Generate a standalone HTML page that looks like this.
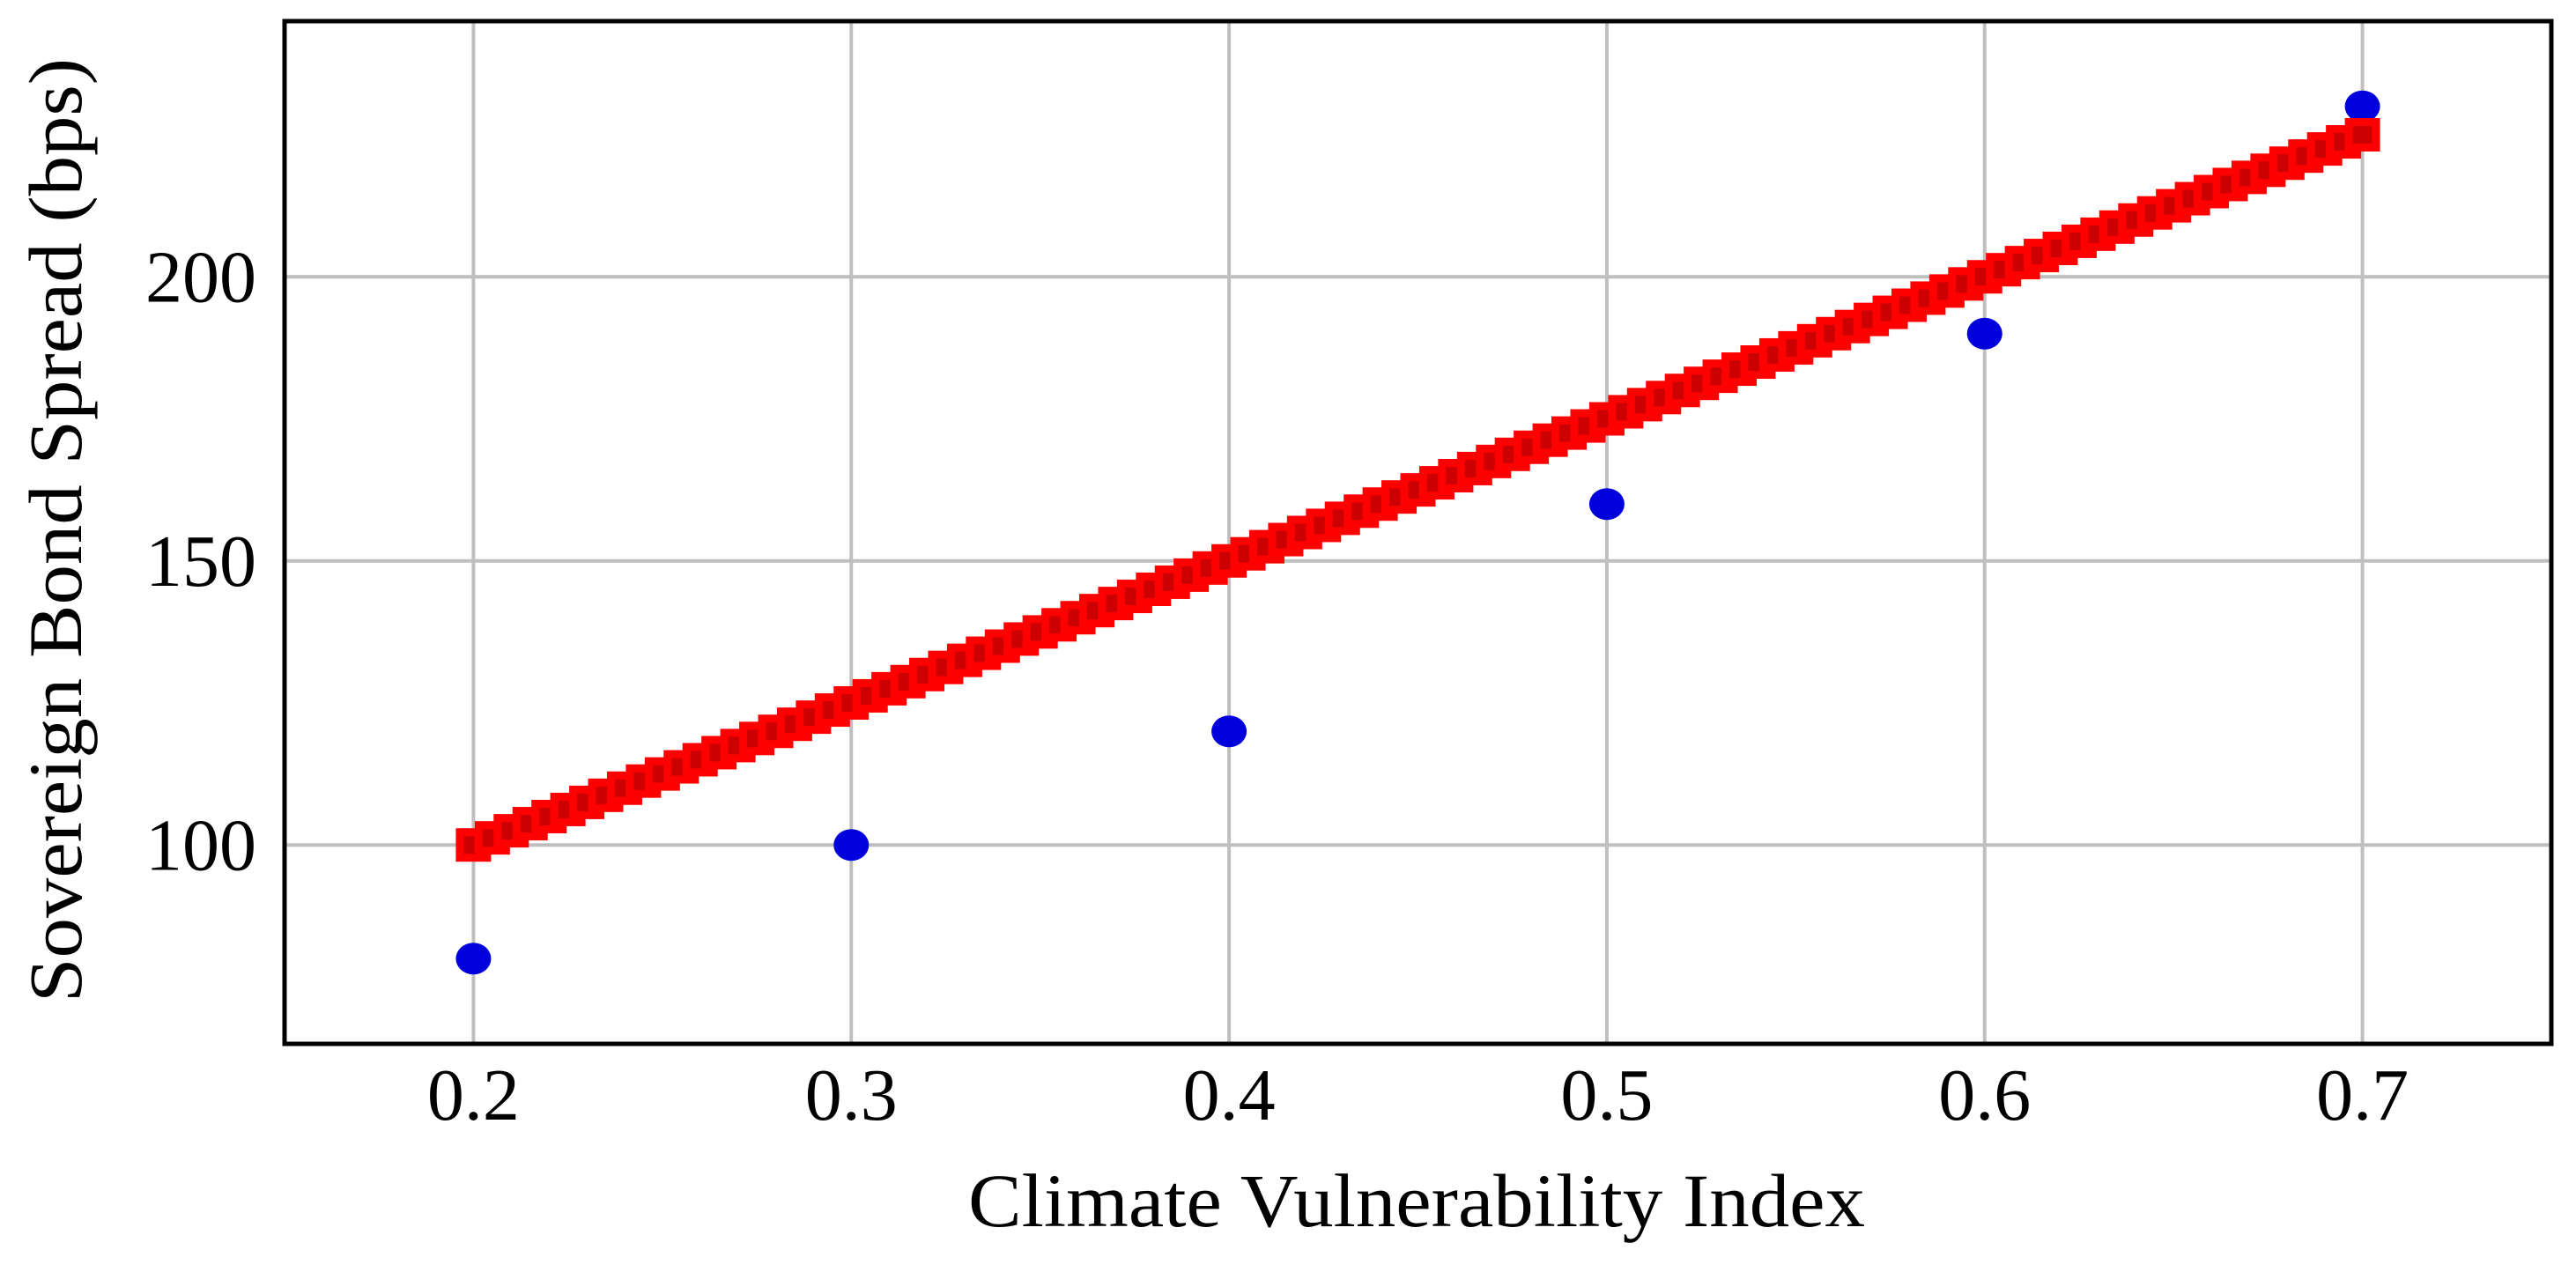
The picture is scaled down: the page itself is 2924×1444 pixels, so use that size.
<!DOCTYPE html>
<html><head><meta charset="utf-8"><style>
html,body{margin:0;padding:0;background:#fff;}
svg{display:block;font-family:"Liberation Serif",serif;}
</style></head><body>
<svg id="chart" width="2924" height="1444" viewBox="0 0 2924 1444" xmlns="http://www.w3.org/2000/svg">
<g id="grid"></g>
<g id="marks"></g>
<rect x="323" y="24" width="2573" height="1161" fill="none" stroke="#000" stroke-width="5"/>
<g id="ticks" font-size="84" fill="#000"></g>
<text x="1608" y="1392" font-size="86" text-anchor="middle" textLength="1018" lengthAdjust="spacingAndGlyphs">Climate Vulnerability Index</text>
<text transform="translate(92,602) rotate(-90)" font-size="86" text-anchor="middle" textLength="1072" lengthAdjust="spacingAndGlyphs">Sovereign Bond Spread (bps)</text>
</svg>
<script>
const xTicks = [0.2, 0.3, 0.4, 0.5, 0.6, 0.7];
const xTickLabels = ["0.2", "0.3", "0.4", "0.5", "0.6", "0.7"];
const yTicks = [100, 150, 200];
const yTickLabels = ["100", "150", "200"];
const obsX = [0.2, 0.3, 0.4, 0.5, 0.6, 0.7];
const obsY = [80, 100, 120, 160, 190, 230];
const fitStart = [0.2, 100];
const fitEnd = [0.7, 225];
const fitSamples = 101;

const X0 = 323, X1 = 2896, Y0 = 1185, Y1 = 24;
const xMin = 0.15, xMax = 0.75, yMin = 65, yMax = 245;
const sx = v => X0 + (v - xMin) / (xMax - xMin) * (X1 - X0);
const sy = v => Y0 - (v - yMin) / (yMax - yMin) * (Y0 - Y1);
const NS = "http://www.w3.org/2000/svg";
function mk(tag, attrs, parent) {
  const e = document.createElementNS(NS, tag);
  for (const k in attrs) e.setAttribute(k, attrs[k]);
  parent.appendChild(e);
  return e;
}
const grid = document.getElementById('grid');
const marks = document.getElementById('marks');
const ticks = document.getElementById('ticks');

xTicks.forEach((t, i) => {
  const g = mk('line', {x1: sx(t), x2: sx(t), y1: Y1, y2: Y0, stroke: '#bfbfbf', 'stroke-width': 4}, grid);
  
  
  const tx = mk('text', {x: sx(t), y: 1271, 'text-anchor': 'middle'}, ticks);
  tx.textContent = xTickLabels[i];
  
  
});
yTicks.forEach((t, i) => {
  const g = mk('line', {x1: X0, x2: X1, y1: sy(t), y2: sy(t), stroke: '#bfbfbf', 'stroke-width': 4}, grid);
  
  
  const tx = mk('text', {x: 291, y: sy(t) + 28, 'text-anchor': 'end'}, ticks);
  tx.textContent = yTickLabels[i];
  
  
});

obsX.forEach((x, i) => {
  const c = mk('ellipse', {cx: sx(x), cy: sy(obsY[i]), rx: 20, ry: 18, fill: '#0000dd'}, marks);
  
  
});

for (let i = 0; i < fitSamples; i++) {
  const f = i / (fitSamples - 1);
  const x = fitStart[0] + f * (fitEnd[0] - fitStart[0]);
  const y = fitStart[1] + f * (fitEnd[1] - fitStart[1]);
  const px = sx(x), py = sy(y);
  const r = mk('rect', {x: px - 20, y: py - 19, width: 40, height: 38, fill: '#ff0000'}, marks);
  
  
  const r2 = mk('rect', {x: px - 11, y: py - 10, width: 22, height: 20, fill: '#cc0000'}, marks);
  
  
}
</script>
</body></html>
